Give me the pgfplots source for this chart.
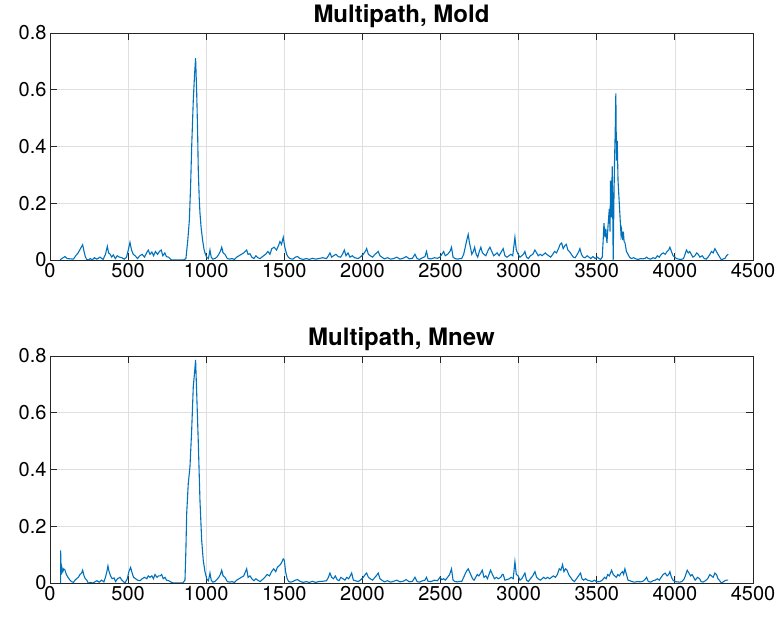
\documentclass[border=0pt]{standalone}
\usepackage{fontspec}
\setmainfont{TeX Gyre Heros}
\usepackage{pgfplots}
\pgfplotsset{compat=1.18}
\definecolor{mblue}{RGB}{0,114,189}
\definecolor{maxis}{RGB}{38,38,38}
\definecolor{mgrid}{RGB}{223,223,223}

\pgfplotsset{mstyle/.style={
    scale only axis, width=703pt, height=227pt,
    xmin=0, xmax=4500, ymin=0, ymax=0.8,
    xtick={0,500,1000,1500,2000,2500,3000,3500,4000,4500},
    ytick={0,0.2,0.4,0.6,0.8},
    scaled x ticks=false, scaled y ticks=false,
    grid=major, major grid style={mgrid, line width=0.7pt},
    axis line style={maxis, line width=0.8pt},
    tick style={maxis, line width=0.8pt},
    major tick length=7pt, tick align=inside, tick pos=both,
    ticklabel style={font=\fontsize{20}{24}\selectfont, text=black},
    /pgf/number format/assume math mode=true,
    xticklabel style={/pgf/number format/set thousands separator={}},
    yticklabel style={/pgf/number format/fixed, /pgf/number format/precision=1},
    title style={font=\fontsize{24}{28}\selectfont\bfseries, yshift=-4pt},
  }}

\begin{document}
\begin{tikzpicture}
\path[use as bounding box] (-50pt,-37pt) rectangle (728pt,583pt);

% top: Mold
\begin{axis}[mstyle, at={(0,323pt)}, anchor=south west, title={Multipath, Mold}]
\addplot[mblue, line width=1.1pt] coordinates {
(65,0) (75,0.005) (96,0.012) (110,0.005) (130,0.004) (150,0.003) (165,0.015) (180,0.025) (195,0.04) (209,0.054) (218,0.03) (226,0.012) (235,0.002) (245,0.0) (258,0.005) (270,0.0) (285,0.008) (300,0.003) (320,0.01) (340,0.002) (355,0.02) (367,0.048) (375,0.025) (385,0.02) (395,0.01) (405,0.018) (418,0.005) (430,0.015) (445,0.01) (460,0.008) (475,0.003) (490,0.01) (503,0.04) (512,0.062) (522,0.035) (533,0.02) (545,0.015) (560,0.005) (575,0.015) (590,0.02) (605,0.01) (618,0.025) (629,0.035) (640,0.02) (652,0.028) (663,0.015) (675,0.03) (688,0.02) (700,0.03) (712,0.035) (722,0.015) (735,0.025) (745,0.012) (758,0.01) (770,0.004) (778,0.0) (800,0.0) (830,0.0) (855,0.0)
(870,0.005) (882,0.07) (892,0.14) (900,0.26) (907,0.40) (917,0.56) (925,0.65) (932,0.711) (939,0.59) (945,0.45) (949,0.32) (955,0.22) (960,0.165) (968,0.11) (977,0.07) (985,0.04) (992,0.025) (1003,0.01)
(1014,0.005) (1024,0.035) (1032,0.01) (1042,0.003) (1055,0.005) (1068,0.01) (1080,0.02) (1090,0.03) (1099,0.045) (1108,0.025) (1120,0.02) (1135,0.005) (1150,0.003) (1165,0.005) (1180,0.002) (1195,0.01) (1210,0.015) (1225,0.02) (1240,0.025) (1259,0.035) (1268,0.02) (1280,0.022) (1292,0.01) (1305,0.005) (1318,0.015) (1330,0.008) (1345,0.005) (1360,0.012) (1380,0.02) (1395,0.03) (1408,0.02) (1420,0.04) (1435,0.045) (1450,0.035) (1462,0.05) (1472,0.065) (1482,0.055) (1493,0.08) (1503,0.045) (1515,0.02) (1525,0.01) (1536,0.005)
(1555,0.003) (1570,0.01) (1585,0.012) (1600,0.005) (1621,0.002) (1640,0.005) (1660,0.002) (1680,0.006) (1700,0.003) (1720,0.005) (1745,0.008) (1770,0.005) (1782,0.015) (1792,0.025) (1803,0.01) (1815,0.015) (1830,0.02) (1845,0.012) (1860,0.01) (1872,0.02) (1884,0.035) (1895,0.015) (1908,0.025) (1920,0.01) (1935,0.015) (1950,0.008) (1973,0.005) (1990,0.012) (2005,0.02) (2018,0.03) (2027,0.04) (2038,0.02) (2050,0.015) (2065,0.01) (2080,0.02) (2092,0.025) (2101,0.03) (2112,0.015) (2125,0.01) (2140,0.004) (2160,0.008) (2180,0.003) (2200,0.005) (2220,0.01) (2240,0.003) (2260,0.006) (2280,0.012) (2300,0.004) (2320,0.006) (2336,0.02) (2350,0.005) (2365,0.002) (2385,0.008) (2400,0.012) (2410,0.03) (2420,0.005) (2440,0.004) (2460,0.008) (2480,0.006) (2496,0.01)
(2508,0.02) (2520,0.03) (2530,0.015) (2545,0.02) (2560,0.03) (2570,0.045) (2580,0.01) (2592,0.005) (2610,0.003) (2625,0.005) (2635,0.005) (2648,0.02) (2660,0.05) (2670,0.075) (2677,0.09) (2685,0.06) (2693,0.04) (2700,0.02) (2710,0.03) (2718,0.045) (2728,0.02) (2738,0.01) (2748,0.03) (2758,0.045) (2768,0.025) (2778,0.02) (2790,0.015) (2805,0.035) (2816,0.045) (2828,0.03) (2840,0.015) (2852,0.02) (2862,0.025) (2875,0.015) (2890,0.03) (2901,0.04) (2912,0.015) (2925,0.01) (2938,0.015) (2950,0.02) (2962,0.015) (2976,0.08) (2985,0.035) (2997,0.02)
(3008,0.01) (3020,0.015) (3030,0.02) (3040,0.03) (3050,0.01) (3062,0.005) (3075,0.015) (3090,0.02) (3104,0.035) (3115,0.025) (3125,0.015) (3138,0.02) (3150,0.015) (3160,0.02) (3170,0.025) (3180,0.02) (3192,0.015) (3205,0.01) (3218,0.02) (3230,0.03) (3242,0.025) (3255,0.04) (3265,0.055) (3275,0.06) (3285,0.04) (3295,0.05) (3305,0.055) (3315,0.035) (3325,0.03) (3337,0.02) (3350,0.01) (3362,0.008) (3375,0.02) (3385,0.03) (3392,0.04) (3402,0.02) (3413,0.01) (3425,0.008) (3438,0.015) (3450,0.01) (3462,0.005) (3475,0.012) (3490,0.005) (3503,0.01) (3515,0.005) (3525,0.002) (3535,0.01)
(3540,0.06) (3546,0.13) (3552,0.08) (3558,0.11) (3565,0.06) (3572,0.12) (3580,0.18) (3585,0.1) (3588,0.28) (3593,0.15) (3599,0.33) (3603,0.12) (3605,0.0) (3610,0.22) (3614,0.36) (3618,0.45) (3622,0.587) (3626,0.35) (3631,0.42) (3636,0.28) (3640,0.24) (3644,0.20) (3650,0.14) (3655,0.09) (3659,0.105) (3664,0.07) (3670,0.10) (3675,0.065) (3681,0.06) (3690,0.03) (3700,0.02)
(3710,0.01) (3720,0.005) (3735,0.008) (3750,0.004) (3765,0.002) (3780,0.005) (3795,0.004) (3810,0.006) (3819,0.01) (3830,0.005) (3845,0.003) (3860,0.008) (3875,0.005) (3888,0.015) (3900,0.01) (3912,0.02) (3925,0.025) (3938,0.02) (3950,0.03) (3960,0.035) (3968,0.045) (3978,0.03) (3988,0.015) (4000,0.01) (4010,0.005) (4025,0.003) (4040,0.002) (4055,0.005) (4065,0.02) (4074,0.035) (4085,0.025) (4095,0.03) (4105,0.02) (4115,0.01) (4128,0.015) (4140,0.025) (4150,0.02) (4160,0.01) (4175,0.015) (4188,0.005) (4200,0.003) (4212,0.01) (4224,0.02) (4234,0.03) (4245,0.025) (4256,0.04) (4266,0.03) (4276,0.02) (4287,0.01) (4298,0.0) (4310,0.004) (4320,0.005) (4330,0.015) (4341,0.02)
};
\end{axis}

% bottom: Mnew
\begin{axis}[mstyle, at={(0,0)}, anchor=south west, title={Multipath, Mnew}]
\addplot[mblue, line width=1.1pt] coordinates {
(68,0) (68,0.115) (72,0.03) (76,0.055) (82,0.04) (88,0.05) (96,0.045) (105,0.03) (115,0.02) (128,0.01) (138,0.005) (150,0.002) (160,0.01) (170,0.015) (181,0.02) (192,0.03) (202,0.035) (209,0.045) (218,0.025) (226,0.015) (235,0.01) (245,0.0) (260,0.002) (275,0.0) (290,0.005) (300,0.008) (315,0.003) (330,0.01) (345,0.004) (355,0.02) (364,0.04) (371,0.06) (378,0.04) (388,0.025) (398,0.015) (410,0.018) (420,0.005) (432,0.015) (448,0.02) (460,0.01) (470,0.005) (480,0.0) (495,0.015) (505,0.04) (516,0.055) (526,0.035) (535,0.02) (548,0.015) (560,0.01) (576,0.008) (590,0.015) (605,0.02) (620,0.015) (629,0.025) (640,0.02) (652,0.025) (662,0.015) (672,0.03) (685,0.02) (695,0.025) (705,0.025) (715,0.03) (725,0.015) (736,0.02) (746,0.01) (760,0.008) (775,0.003) (789,0.0) (820,0.0) (850,0.0)
(864,0.01) (870,0.12) (875,0.245) (885,0.35) (896,0.41) (907,0.54) (917,0.69) (925,0.74) (932,0.786) (939,0.67) (949,0.50) (960,0.29) (971,0.15) (981,0.08) (992,0.04) (1003,0.015)
(1014,0.008) (1024,0.035) (1032,0.01) (1042,0.003) (1055,0.005) (1068,0.012) (1080,0.02) (1090,0.03) (1099,0.045) (1108,0.025) (1120,0.02) (1135,0.005) (1150,0.003) (1165,0.005) (1180,0.002) (1195,0.01) (1210,0.015) (1225,0.02) (1240,0.025) (1259,0.05) (1268,0.02) (1280,0.025) (1292,0.015) (1305,0.008) (1318,0.015) (1330,0.01) (1345,0.005) (1360,0.012) (1375,0.02) (1390,0.03) (1405,0.025) (1418,0.04) (1432,0.05) (1445,0.04) (1455,0.055) (1465,0.06) (1475,0.065) (1485,0.075) (1493,0.085) (1500,0.08) (1508,0.04) (1518,0.015) (1528,0.005)
(1540,0.003) (1555,0.005) (1570,0.01) (1585,0.012) (1600,0.006) (1620,0.002) (1640,0.005) (1660,0.002) (1680,0.006) (1700,0.002) (1720,0.005) (1745,0.006) (1770,0.008) (1782,0.02) (1792,0.035) (1803,0.02) (1815,0.015) (1826,0.025) (1838,0.012) (1850,0.008) (1862,0.02) (1875,0.015) (1888,0.01) (1900,0.02) (1912,0.015) (1922,0.025) (1931,0.035) (1942,0.01) (1955,0.008) (1973,0.005) (1990,0.012) (2005,0.02) (2018,0.03) (2027,0.035) (2038,0.02) (2050,0.015) (2065,0.01) (2080,0.02) (2092,0.028) (2101,0.035) (2112,0.015) (2125,0.01) (2140,0.004) (2160,0.008) (2180,0.003) (2200,0.006) (2220,0.01) (2240,0.004) (2260,0.006) (2280,0.012) (2300,0.004) (2320,0.006) (2336,0.02) (2350,0.005) (2365,0.003) (2385,0.008) (2400,0.01) (2410,0.02) (2420,0.006) (2440,0.005) (2460,0.01) (2480,0.008) (2496,0.02)
(2508,0.012) (2520,0.015) (2530,0.01) (2545,0.02) (2558,0.03) (2570,0.05) (2580,0.01) (2592,0.005) (2610,0.004) (2625,0.006) (2635,0.005) (2648,0.02) (2660,0.035) (2670,0.045) (2677,0.05) (2685,0.04) (2693,0.03) (2705,0.015) (2715,0.01) (2725,0.02) (2735,0.03) (2745,0.025) (2757,0.035) (2767,0.045) (2778,0.02) (2790,0.025) (2800,0.015) (2810,0.03) (2820,0.045) (2832,0.03) (2845,0.015) (2858,0.02) (2870,0.015) (2885,0.02) (2895,0.03) (2901,0.03) (2912,0.01) (2925,0.012) (2940,0.015) (2952,0.02) (2965,0.015) (2976,0.075) (2985,0.03) (2997,0.025)
(3008,0.01) (3020,0.015) (3030,0.025) (3040,0.035) (3050,0.01) (3062,0.005) (3075,0.015) (3090,0.025) (3104,0.04) (3115,0.02) (3125,0.015) (3138,0.01) (3150,0.015) (3160,0.02) (3172,0.015) (3185,0.02) (3198,0.015) (3210,0.02) (3222,0.025) (3235,0.02) (3248,0.03) (3260,0.05) (3270,0.045) (3281,0.065) (3290,0.04) (3300,0.05) (3310,0.045) (3320,0.03) (3332,0.02) (3345,0.01) (3357,0.005) (3370,0.015) (3383,0.025) (3396,0.035) (3405,0.015) (3415,0.01) (3428,0.015) (3440,0.01) (3455,0.008) (3470,0.005) (3485,0.01) (3500,0.004)
(3520,0.005) (3535,0.01) (3550,0.02) (3560,0.015) (3570,0.03) (3580,0.025) (3595,0.045) (3605,0.03) (3615,0.025) (3625,0.02) (3635,0.03) (3645,0.025) (3655,0.035) (3665,0.04) (3672,0.03) (3680,0.05) (3690,0.03) (3700,0.01) (3712,0.008) (3725,0.005) (3740,0.003) (3760,0.005) (3780,0.004) (3795,0.006) (3808,0.012) (3819,0.02) (3830,0.005) (3845,0.003) (3860,0.008) (3875,0.01) (3888,0.015) (3900,0.01) (3912,0.02) (3925,0.03) (3938,0.035) (3950,0.025) (3960,0.03) (3968,0.04) (3978,0.02) (3988,0.01) (4000,0.005)
(4015,0.004) (4030,0.003) (4045,0.005) (4060,0.015) (4070,0.03) (4079,0.045) (4090,0.035) (4100,0.025) (4110,0.03) (4120,0.02) (4130,0.01) (4145,0.02) (4158,0.015) (4168,0.005) (4180,0.003) (4195,0.008) (4210,0.015) (4224,0.03) (4234,0.025) (4245,0.02) (4256,0.035) (4266,0.03) (4276,0.015) (4287,0.008) (4298,0.0) (4310,0.004) (4320,0.008) (4330,0.01) (4341,0.01)
};
\end{axis}
\end{tikzpicture}
\end{document}
